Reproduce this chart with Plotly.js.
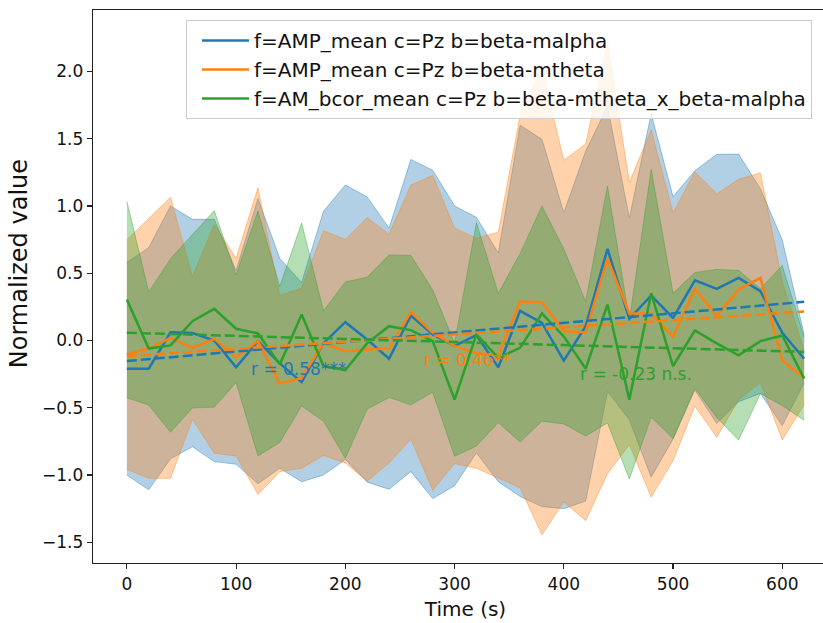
<!DOCTYPE html>
<html>
<head>
<meta charset="utf-8">
<script src="https://cdn.plot.ly/plotly-3.0.1.min.js"></script>
<style>
  html, body { margin: 0; padding: 0; overflow: hidden; background: #fff; }
  #chart { width: 845px; height: 623px; }
</style>
</head>
<body>
<div id="chart"></div>
<script>
// ---- data ----
const timeSec = [0, 20, 40, 60, 80, 100, 120, 140, 160, 180, 200, 220, 240, 260, 280, 300,
                 320, 340, 360, 380, 400, 420, 440, 460, 480, 500, 520, 540, 560, 580, 600, 620];

const seriesNames = [
  "f=AMP_mean c=Pz b=beta-malpha",
  "f=AMP_mean c=Pz b=beta-mtheta",
  "f=AM_bcor_mean c=Pz b=beta-mtheta_x_beta-malpha"
];

const blueMean = [-0.21, -0.21, 0.06, 0.055, 0.0, -0.2, -0.005, -0.17, -0.31, -0.02, 0.136, 0.007,
                  -0.136, 0.185, 0.045, -0.04, 0.04, -0.2, 0.22, 0.13, -0.15, 0.106, 0.68, 0.16,
                  0.334, 0.168, 0.447, 0.383, 0.465, 0.366, 0.057, -0.136];
const blueStd = [0.79, 0.90, 0.94, 0.845, 0.9, 0.72, 1.06, 0.78, 0.74, 0.98, 1.02, 1.06,
                 0.97, 1.16, 1.22, 1.04, 0.875, 0.85, 1.38, 1.365, 1.1, 1.3, 1.06, 0.75,
                 1.35, 0.9, 0.815, 1.0, 0.92, 0.76, 0.69, 0.18];

const orangeMean = [-0.104, -0.06, 0.02, -0.055, 0.012, -0.124, -0.005, -0.32, -0.28, -0.02, -0.08, -0.067,
                    -0.06, 0.21, 0.057, -0.04, -0.095, -0.11, 0.29, 0.285, 0.07, 0.06, 0.61, 0.2,
                    0.2, 0.027, 0.383, 0.185, 0.378, 0.465, -0.15, -0.277];
const orangeStd = [0.853, 0.965, 1.045, 0.53, 0.85, 0.735, 1.14, 0.655, 0.67, 0.835, 0.83, 0.98,
                   0.85, 0.945, 1.17, 0.875, 0.855, 0.915, 1.385, 1.73, 1.27, 1.4, 1.6, 0.975,
                   1.365, 0.92, 0.87, 0.905, 0.82, 0.78, 0.59, 0.2];

const greenMean = [0.304, -0.06, -0.037, 0.143, 0.235, 0.087, 0.052, -0.178, 0.193, -0.19, -0.22, -0.02,
                   0.106, 0.077, -0.005, -0.44, 0.045, -0.13, -0.055, 0.2, 0.03, -0.21, 0.267, -0.44,
                   0.35, -0.19, 0.075, -0.022, -0.11, -0.005, 0.037, -0.284];
const greenStd = [0.73, 0.42, 0.645, 0.645, 0.73, 0.4, 0.91, 0.58, 0.68, 0.41, 0.655, 0.49,
                  0.53, 0.555, 0.38, 0.42, 0.83, 0.48, 0.7, 0.8, 0.65, 0.5, 0.88, 0.59,
                  0.92, 0.54, 0.43, 0.55, 0.63, 0.39, 0.52, 0.31];

// trend lines (values at first and last time point)
const fitTime = [0, 620];
const blueFit = [-0.153, 0.287];
const orangeFit = [-0.116, 0.215];
const greenFit = [0.057, -0.085];

// correlation labels
const corrLabels = ["r = 0.58***", "r = 0.46**", "r = -0.23 n.s."];
const corrX = [111.5, 270.3, 413.2];
const corrY = [-0.215, -0.148, -0.252];

const yTickVals = [-1.5, -1.0, -0.5, 0.0, 0.5, 1.0, 1.5, 2.0];
const xTickVals = [0, 100, 200, 300, 400, 500, 600];

// ---- drawing ----
const colors = ["#1f77b4", "#ff7f0e", "#2ca02c"];
const rgbs = ["31,119,180", "255,127,14", "44,160,44"];
const means = [blueMean, orangeMean, greenMean];
const stds = [blueStd, orangeStd, greenStd];
const fits = [blueFit, orangeFit, greenFit];

const traces = [];
for (let s = 0; s < 3; s++) {
  const lo = means[s].map((m, i) => m - stds[s][i]);
  const hi = means[s].map((m, i) => m + stds[s][i]);
  traces.push({
    x: timeSec, y: lo, type: "scatter", mode: "lines",
    line: {color: "rgba(" + rgbs[s] + ",0.4)", width: 1},
    showlegend: false, hoverinfo: "skip"
  });
  traces.push({
    x: timeSec, y: hi, type: "scatter", mode: "lines", fill: "tonexty",
    fillcolor: "rgba(" + rgbs[s] + ",0.35)",
    line: {color: "rgba(" + rgbs[s] + ",0.4)", width: 1},
    showlegend: false, hoverinfo: "skip"
  });
}
for (let s = 0; s < 3; s++) {
  traces.push({
    x: timeSec, y: means[s], type: "scatter", mode: "lines", name: seriesNames[s],
    line: {color: colors[s], width: 2.5}
  });
}
for (let s = 0; s < 3; s++) {
  traces.push({
    x: fitTime, y: fits[s], type: "scatter", mode: "lines", showlegend: false,
    line: {color: colors[s], width: 2.5, dash: "10px,4px"}
  });
}

const annotations = corrLabels.map((t, s) => ({
  x: corrX[s], y: corrY[s], xref: "x", yref: "y", text: t, showarrow: false,
  xanchor: "left", yanchor: "middle",
  font: {family: "DejaVu Sans", size: 17, color: colors[s]}
}));

const axisCommon = {
  showline: true, linecolor: "#222", linewidth: 1.3, mirror: true,
  ticks: "outside", ticklen: 5, tickwidth: 1.2, tickcolor: "#222",
  showgrid: false, zeroline: false,
  tickfont: {family: "DejaVu Sans", size: 17, color: "#111"}
};

const layout = {
  width: 845, height: 623,
  margin: {l: 93, r: 7, t: 10, b: 60},
  paper_bgcolor: "#fff", plot_bgcolor: "#fff",
  font: {family: "DejaVu Sans", color: "#111"},
  xaxis: Object.assign({}, axisCommon, {
    range: [-31, 651], tickvals: xTickVals,
    title: {text: "Time (s)", font: {family: "DejaVu Sans", size: 20, color: "#111"}, standoff: 9}
  }),
  yaxis: Object.assign({}, axisCommon, {
    range: [-1.654, 2.456], tickvals: yTickVals, tickformat: ".1f",
    title: {text: "&nbsp;&nbsp;&nbsp;&nbsp;&nbsp;&nbsp;Normalized value", font: {family: "DejaVu Sans", size: 24, color: "#111"}, standoff: 7}
  }),
  legend: {
    x: 0.1248, y: 0.982, xanchor: "left", yanchor: "top", traceorder: "normal",
    bgcolor: "rgba(255,255,255,0.8)", bordercolor: "#cccccc", borderwidth: 1,
    font: {family: "DejaVu Sans", size: 20, color: "#111"},
    itemwidth: 47, indentation: 10
  },
  annotations: annotations,
  showlegend: true
};

Plotly.newPlot("chart", traces, layout, {staticPlot: true, displayModeBar: false});
</script>
</body>
</html>
